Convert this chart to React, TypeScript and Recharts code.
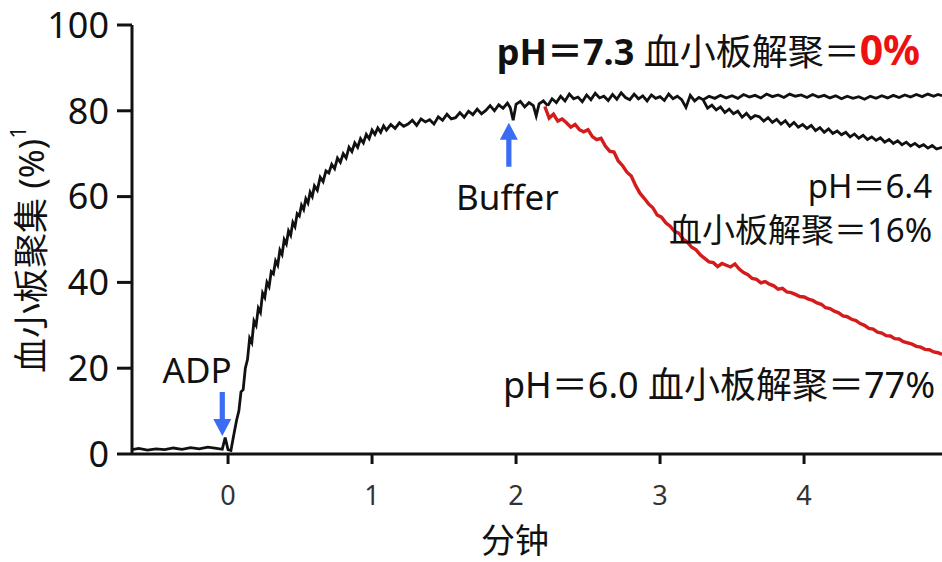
import React from 'react';
import { LineChart, Line, XAxis, YAxis, ReferenceDot, Label } from 'recharts';

// time (min), aggregation (%)
const aggregationTrace: [number, number][] = [
  [-0.667, 1.0], [-0.62, 1.3], [-0.56, 0.9], [-0.5, 1.2], [-0.44, 1.0], [-0.38, 1.4], [-0.32, 1.1],
  [-0.26, 1.5], [-0.2, 1.2], [-0.14, 1.6], [-0.08, 1.3], [-0.04, 1.1], [-0.02, 3.8], [0.0, 1.0], [0.02, 0.8],
  [0.04, 4.5], [0.06, 8], [0.075, 10], [0.09, 14.5], [0.105, 15], [0.12, 20], [0.135, 22], [0.15, 27],
  [0.165, 26], [0.18, 31], [0.195, 30], [0.21, 34], [0.225, 33], [0.24, 37.5], [0.255, 36.5], [0.27, 40],
  [0.285, 39], [0.3, 42.5], [0.315, 42], [0.33, 45], [0.345, 44], [0.36, 47.5], [0.375, 46.5], [0.39, 50],
  [0.405, 49], [0.42, 52], [0.435, 51], [0.45, 54], [0.465, 53], [0.48, 56], [0.495, 55.5], [0.51, 58],
  [0.525, 57], [0.54, 59.5], [0.555, 58.5], [0.57, 61], [0.585, 60], [0.6, 62.5], [0.62, 61.5], [0.64, 64.5],
  [0.66, 63.5], [0.68, 66], [0.7, 65.5], [0.72, 67.5], [0.74, 66.5], [0.76, 69], [0.78, 68], [0.8, 70],
  [0.82, 69], [0.84, 71.5], [0.86, 70.5], [0.88, 72.5], [0.9, 71.5], [0.92, 73.5], [0.94, 72.5], [0.96, 74.5],
  [0.98, 73.5], [1.0, 75.5], [1.02, 74.5], [1.04, 76], [1.06, 75], [1.08, 76.5], [1.1, 75.5],
  [1.13, 76.8], [1.16, 75.9], [1.19, 77.2], [1.22, 76.4], [1.25, 76.9], [1.28, 77.8], [1.31, 76.6], [1.34, 78.1],
  [1.37, 77.4], [1.4, 77.9], [1.43, 76.9], [1.46, 78.6], [1.49, 77.8], [1.52, 79.2], [1.55, 78.1], [1.58, 78.4],
  [1.61, 79.6], [1.64, 78.5], [1.67, 79.9], [1.7, 79.1], [1.73, 80.4], [1.76, 79.3], [1.79, 80.1], [1.82, 81.2],
  [1.85, 80], [1.88, 81.4], [1.91, 80.6], [1.94, 81.8], [1.96, 80.7], [1.98, 77.8], [2.0, 81.5], [2.03, 82.2],
  [2.06, 80.9], [2.09, 81.9], [2.12, 81.2], [2.14, 78.8], [2.16, 81.6], [2.19, 82.3], [2.22, 81.2],
];

const ph73Trace: [number, number][] = [
  [2.22, 81.2], [2.25, 82.8], [2.28, 81.9], [2.31, 83.4], [2.34, 82.3], [2.37, 83.9], [2.4, 82.8], [2.43, 83.2],
  [2.46, 82.1], [2.49, 83.7], [2.52, 82.6], [2.55, 84.1], [2.58, 83], [2.61, 83.4], [2.64, 82.4], [2.67, 83.8],
  [2.7, 82.7], [2.73, 84.2], [2.76, 83.1], [2.79, 82.6], [2.82, 83.9], [2.85, 82.8], [2.88, 83.5], [2.91, 82.3],
  [2.94, 83.7], [2.97, 82.9], [3.0, 83.3], [3.03, 82.4], [3.06, 83.9], [3.09, 82.8], [3.12, 83.4], [3.15, 82.6],
  [3.18, 80.8], [3.21, 83.6], [3.24, 82.3], [3.27, 83.1], [3.3, 82.6], [3.34, 83.4], [3.38, 82.9], [3.42, 83.6],
  [3.46, 83.0], [3.5, 83.5], [3.54, 82.9], [3.58, 83.8], [3.62, 83.2], [3.66, 83.6], [3.7, 83.0], [3.74, 83.9],
  [3.78, 83.3], [3.82, 83.7], [3.86, 83.1], [3.9, 83.9], [3.94, 83.4], [3.98, 83.7], [4.02, 83.1], [4.06, 83.8],
  [4.1, 83.2], [4.14, 83.6], [4.18, 83.0], [4.22, 83.5], [4.26, 82.8], [4.3, 83.4], [4.34, 82.9], [4.38, 83.3],
  [4.42, 82.7], [4.46, 83.4], [4.5, 82.9], [4.54, 83.5], [4.58, 83.0], [4.62, 83.6], [4.66, 83.1], [4.7, 83.7],
  [4.74, 83.2], [4.78, 83.8], [4.82, 83.3], [4.86, 83.9], [4.9, 83.4], [4.93, 83.8], [4.958, 83.5],
];

const ph64Trace: [number, number][] = [
  [3.3, 82.5], [3.33, 80.6], [3.36, 81.3], [3.39, 80.2], [3.42, 80.9], [3.45, 79.6], [3.48, 80.4], [3.51, 79.3],
  [3.54, 79.9], [3.57, 78.5], [3.6, 79.4], [3.63, 78.2], [3.66, 78.9], [3.69, 78.6], [3.72, 77.6], [3.75, 78.4],
  [3.78, 77.3], [3.81, 78.0], [3.84, 76.9], [3.87, 77.7], [3.9, 76.4], [3.93, 77.3], [3.96, 76.2], [3.99, 76.8],
  [4.02, 75.9], [4.05, 76.6], [4.08, 75.4], [4.11, 76.1], [4.14, 75.0], [4.17, 75.8], [4.2, 74.7], [4.23, 75.3],
  [4.26, 74.4], [4.29, 75.0], [4.32, 73.9], [4.35, 74.6], [4.38, 73.6], [4.41, 74.3], [4.44, 73.3], [4.47, 73.9],
  [4.5, 73.1], [4.53, 73.7], [4.56, 72.7], [4.59, 73.3], [4.62, 72.4], [4.65, 73.0], [4.68, 72.1], [4.71, 72.7],
  [4.74, 71.8], [4.77, 72.4], [4.8, 71.6], [4.83, 72.1], [4.86, 71.3], [4.89, 71.9], [4.92, 71.1], [4.958, 71.5],
];

const ph60Trace: [number, number][] = [
  [2.2, 81], [2.23, 78.3], [2.26, 79.2], [2.29, 77.6], [2.32, 78.1], [2.35, 77.2], [2.38, 76.2], [2.41, 76.8],
  [2.44, 75.6], [2.47, 75.1], [2.5, 75.6], [2.53, 74.0], [2.56, 73.3], [2.59, 73.6], [2.62, 71.8], [2.65, 70.6],
  [2.68, 70.4], [2.71, 68.3], [2.74, 67.2], [2.77, 65.7], [2.8, 64.8], [2.83, 62.6], [2.86, 60.8], [2.89, 59.6],
  [2.92, 58.3], [2.95, 57.4], [2.98, 55.7], [3.01, 55.2], [3.04, 53.9], [3.07, 53.1], [3.1, 51.9], [3.13, 51.5],
  [3.16, 50.1], [3.19, 49.4], [3.22, 48.2], [3.25, 47.6], [3.28, 46.4], [3.31, 45.6], [3.34, 44.8], [3.37, 44.6],
  [3.4, 43.7], [3.43, 44.4], [3.46, 44.0], [3.49, 43.6], [3.52, 44.3], [3.55, 43.1], [3.58, 42.3], [3.61, 41.8],
  [3.64, 40.9], [3.67, 40.7], [3.7, 39.9], [3.73, 40.2], [3.76, 39.6], [3.79, 39.2], [3.82, 38.4], [3.85, 38.6],
  [3.88, 37.8], [3.91, 37.6], [3.94, 37.2], [3.97, 36.7], [4.0, 36.6], [4.03, 36.1], [4.06, 35.8], [4.09, 35.2],
  [4.12, 34.9], [4.15, 34.1], [4.18, 33.9], [4.21, 33.3], [4.24, 32.9], [4.27, 32.2], [4.3, 32.0], [4.33, 31.4],
  [4.36, 31.1], [4.39, 30.4], [4.42, 30.0], [4.45, 29.3], [4.48, 29.1], [4.51, 28.4], [4.54, 28.2], [4.57, 27.6],
  [4.6, 27.5], [4.63, 26.9], [4.66, 26.8], [4.69, 26.2], [4.72, 25.9], [4.75, 25.6], [4.78, 25.1], [4.81, 24.9],
  [4.84, 24.4], [4.87, 24.3], [4.9, 23.8], [4.93, 23.6], [4.958, 23.2],
];

const xTicks = [0, 1, 2, 3, 4];
const yTicks = [0, 20, 40, 60, 80, 100];

const toPoints = (arr: [number, number][]) => arr.map(([t, v]) => ({ t, v }));

const FONT = '"Noto Sans", "Noto Sans CJK SC", sans-serif';
const BLUE = '#3a6cf4';
const RED = '#d41c1c';
const INK = '#111';

const DownArrow = (props: any) => {
  const { cx, cy } = props;
  const len = 44, head = 17, hw = 9, sw = 2.6;
  return (
    <polygon
      fill={BLUE}
      points={`${cx - sw},${cy - len} ${cx + sw},${cy - len} ${cx + sw},${cy - head} ${cx + hw},${cy - head} ${cx},${cy} ${cx - hw},${cy - head} ${cx - sw},${cy - head}`}
    />
  );
};

const UpArrow = (props: any) => {
  const { cx, cy } = props;
  const len = 44, head = 17, hw = 9, sw = 2.6;
  return (
    <polygon
      fill={BLUE}
      points={`${cx - sw},${cy + len} ${cx + sw},${cy + len} ${cx + sw},${cy + head} ${cx + hw},${cy + head} ${cx},${cy} ${cx - hw},${cy + head} ${cx - sw},${cy + head}`}
    />
  );
};

const textShape = (content: React.ReactNode, anchor: 'start' | 'middle' | 'end', size: number) => (props: any) => (
  <text x={props.cx} y={props.cy} textAnchor={anchor} fontSize={size} fontFamily={FONT} fill={INK}>
    {content}
  </text>
);

export default function App() {
  return (
    <div style={{ position: 'absolute', left: 0, top: 0, width: 942, height: 562, background: '#fff' }}>
      <LineChart width={942} height={562} margin={{ top: 25, right: 0, bottom: 48, left: 0 }}>
        <XAxis
          type="number"
          dataKey="t"
          domain={[-0.667, 4.958]}
          allowDataOverflow
          ticks={xTicks}
          height={60}
          tickSize={10}
          tickMargin={22}
          axisLine={{ stroke: INK, strokeWidth: 3 }}
          tickLine={{ stroke: INK, strokeWidth: 3 }}
          tick={{ fontSize: 27, fill: '#333', fontFamily: FONT }}
        >
          <Label
            content={(p: any) => {
              const vb = p.viewBox || { x: 132, y: 454, width: 810 };
              return (
                <text x={vb.x + vb.width / 2 - 22} y={vb.y + 99} textAnchor="middle" fontSize={34} fontFamily={FONT} fill={INK}>
                  分钟
                </text>
              );
            }}
          />
        </XAxis>
        <YAxis
          type="number"
          domain={[0, 100]}
          ticks={yTicks}
          width={132}
          tickSize={15}
          tickMargin={8}
          axisLine={{ stroke: INK, strokeWidth: 3 }}
          tickLine={{ stroke: INK, strokeWidth: 3 }}
          tick={{ fontSize: 36, fill: INK, fontFamily: FONT }}
        >
          <Label
            content={(p: any) => {
              const vb = p.viewBox || { x: 0, y: 25, width: 132, height: 429 };
              const cx = vb.x + 30;
              const cy = vb.y + vb.height / 2 + 10;
              return (
                <text
                  x={0}
                  y={0}
                  transform={`translate(${cx},${cy}) rotate(-90)`}
                  textAnchor="middle"
                  dominantBaseline="central"
                  fontSize={35}
                  fontFamily={FONT}
                  fill={INK}
                >
                  血小板聚集 (%)<tspan fontSize={22} dy={-13}>1</tspan>
                </text>
              );
            }}
          />
        </YAxis>

        <Line data={toPoints(ph64Trace)} dataKey="v" type="linear" stroke={INK} strokeWidth={2.8} dot={false} isAnimationActive={false} />
        <Line data={toPoints(ph73Trace)} dataKey="v" type="linear" stroke={INK} strokeWidth={2.8} dot={false} isAnimationActive={false} />
        <Line data={toPoints(ph60Trace)} dataKey="v" type="linear" stroke={RED} strokeWidth={3.4} dot={false} isAnimationActive={false} />
        <Line data={toPoints(aggregationTrace)} dataKey="v" type="linear" stroke={INK} strokeWidth={2.8} dot={false} isAnimationActive={false} />

        <ReferenceDot x={-0.04} y={4.2} ifOverflow="visible" shape={DownArrow} />
        <ReferenceDot x={1.95} y={77.2} ifOverflow="visible" shape={UpArrow} />

        <ReferenceDot x={-0.215} y={16.5} ifOverflow="visible" shape={textShape('ADP', 'middle', 35)} />
        <ReferenceDot x={1.94} y={56.9} ifOverflow="visible" shape={textShape('Buffer', 'middle', 35)} />
        <ReferenceDot
          x={4.806}
          y={90.7}
          ifOverflow="visible"
          shape={textShape(
            <>
              <tspan fontWeight="bold">pH＝7.3 </tspan>
              <tspan>血小板解聚＝</tspan>
              <tspan fontWeight="bold" fill="#ee1111" fontSize={41}>0%</tspan>
            </>,
            'end',
            36
          )}
        />
        <ReferenceDot x={4.889} y={59.7} ifOverflow="visible" shape={textShape('pH＝6.4', 'end', 33)} />
        <ReferenceDot x={4.889} y={49.4} ifOverflow="visible" shape={textShape('血小板解聚＝16%', 'end', 33)} />
        <ReferenceDot x={4.91} y={13.05} ifOverflow="visible" shape={textShape('pH＝6.0 血小板解聚＝77%', 'end', 36)} />
      </LineChart>
    </div>
  );
}
